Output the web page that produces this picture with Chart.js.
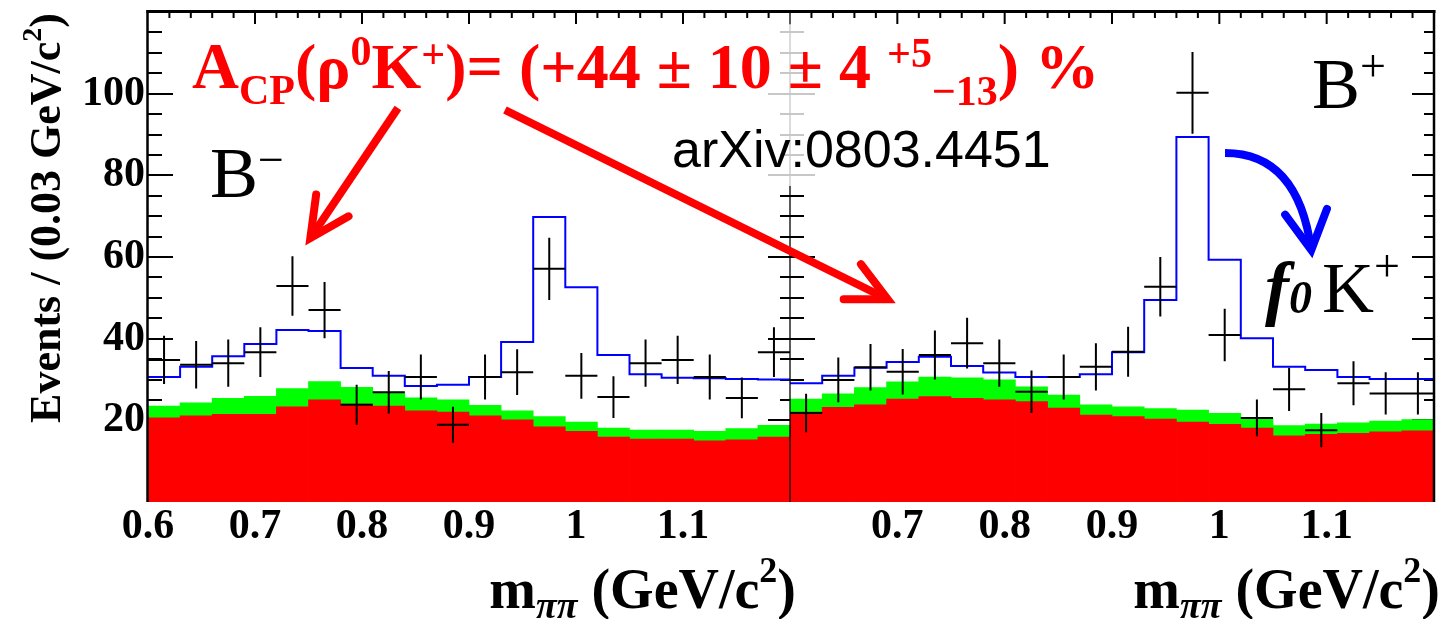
<!DOCTYPE html>
<html>
<head>
<meta charset="utf-8">
<script src="https://cdn.jsdelivr.net/npm/chart.js@4.4.1/dist/chart.umd.min.js"></script>
<style>
  html, body { margin: 0; padding: 0; background: #ffffff; }
  #stage { position: relative; width: 1442px; height: 619px; overflow: hidden; }
  #stage canvas { position: absolute; left: 0; top: 0; }
</style>
</head>
<body>
<div id="stage">
  <canvas id="panelMinus" width="1442" height="619"></canvas>
  <canvas id="panelPlus" width="1442" height="619"></canvas>
</div>
<script>
const SERIF = '"Liberation Serif", "Times New Roman", Times, serif';
const SANS = '"Liberation Sans", Arial, Helvetica, sans-serif';

// m(pi pi) binning: 20 bins of 0.03 GeV/c^2 from 0.60 to 1.20
const binLowEdges = [0.60, 0.63, 0.66, 0.69, 0.72, 0.75, 0.78, 0.81, 0.84, 0.87,
                     0.90, 0.93, 0.96, 0.99, 1.02, 1.05, 1.08, 1.11, 1.14, 1.17];
const binWidth = 0.03;
const massMin = 0.6, massMax = 1.2;
const yMin = 0, yMax = 120;

const yTickValues = [20, 40, 60, 80, 100];
const xTickValuesMinus = [0.6, 0.7, 0.8, 0.9, 1.0, 1.1];
const xTickLabelsMinus = ['0.6', '0.7', '0.8', '0.9', '1', '1.1'];
const xTickValuesPlus = [0.7, 0.8, 0.9, 1.0, 1.1];
const xTickLabelsPlus = ['0.7', '0.8', '0.9', '1', '1.1'];

// B- sample
const minusEvents    = [34.8, 33.6, 34.0, 36.7, 52.9, 47.0, 23.8, 26.9, 30.6, 18.9,
                        30.6, 31.8, 57.1, 30.9, 25.7, 34.0, 34.8, 30.6, 25.5, 36.7];
const minusErrors    = [5.9, 5.8, 5.8, 6.1, 7.3, 6.9, 4.9, 5.2, 5.5, 4.4,
                        5.5, 5.6, 7.6, 5.6, 5.1, 5.8, 5.9, 5.5, 5.0, 6.1];
const minusFitTotal  = [30.6, 33.1, 35.7, 38.7, 42.1, 41.9, 32.8, 30.9, 28.4, 28.7,
                        30.6, 39.2, 69.8, 52.6, 36.0, 31.3, 30.4, 30.3, 30.1, 30.0];
const minusBkgTotal  = [23.5, 24.3, 25.4, 25.9, 27.8, 29.5, 28.1, 26.7, 25.5, 25.0,
                        23.7, 22.3, 20.9, 19.6, 18.1, 17.6, 17.6, 17.3, 18.0, 18.8];
const minusContinuum = [20.6, 21.1, 21.5, 21.5, 23.3, 25.0, 24.0, 23.5, 22.3, 22.0,
                        21.1, 20.1, 18.4, 17.3, 15.9, 15.4, 15.4, 15.0, 15.2, 15.9];

// B+ sample
const plusEvents     = [21.8, 29.9, 33.0, 31.9, 36.0, 38.9, 34.0, 27.0, 30.6, 33.1,
                        36.8, 52.7, 100.2, 40.9, 20.6, 27.6, 17.6, 29.1, 26.6, 26.6];
const plusErrors     = [4.7, 5.5, 5.7, 5.6, 6.0, 6.2, 5.8, 5.2, 5.5, 5.8,
                        6.1, 7.3, 10.0, 6.4, 4.5, 5.3, 4.2, 5.4, 5.2, 5.2];
const plusFitTotal   = [29.1, 30.9, 32.9, 34.3, 35.6, 33.3, 31.7, 30.6, 30.6, 31.3,
                        36.7, 49.5, 89.4, 59.3, 40.1, 33.1, 32.3, 30.6, 30.1, 30.1];
const plusBkgTotal   = [25.2, 26.5, 28.0, 29.4, 30.6, 30.4, 29.9, 28.2, 26.2, 23.8,
                        23.3, 22.9, 22.5, 21.7, 20.5, 18.7, 19.1, 19.4, 19.8, 20.2];
const plusContinuum  = [22.0, 23.2, 23.8, 25.2, 25.8, 25.4, 25.0, 24.6, 23.0, 21.3,
                        20.9, 20.3, 19.6, 19.0, 18.1, 16.2, 16.6, 16.8, 17.2, 17.4];

// annotation anchors, given in (m_pipi, events) coordinates of a panel
const arrowToRho  = { from: ['minus', 0.8336, 96.5], to: ['minus', 0.7486, 63.4] };
const arrowToPlus = { from: ['minus', 0.9336, 96.0], to: ['plus', 0.6960, 49.0] };
const arrowToF0   = { from: ['plus', 1.0053, 85.5], ctrl: ['plus', 1.0733, 85.5], to: ['plus', 1.0863, 60.5] };
const labelAcp    = ['minus', 0.6411, 101.4];
const labelArxiv  = ['minus', 1.0897, 82.0];
const labelBminus = ['minus', 0.6579, 74.7];
const labelBplus  = ['plus', 1.0863, 96.5];
const labelF0K    = ['plus', 1.0426, 46.5];
const veilFrom    = ['minus', 0.628, 117.0];
const veilTo      = ['plus', 0.955, 77.4];

const charts = {};

function stepVertices(values) {
  const pts = [];
  values.forEach((v, i) => {
    pts.push({ x: binLowEdges[i], y: v });
    pts.push({ x: binLowEdges[i] + binWidth, y: v });
  });
  return pts;
}
function binPoints(values) {
  return values.map((v, i) => ({ x: binLowEdges[i] + binWidth / 2, y: v }));
}
function toPixel(anchor) {
  const c = charts[anchor[0]];
  return [c.scales.x.getPixelForValue(anchor[1]), c.scales.y.getPixelForValue(anchor[2])];
}

function drawRich(ctx, parts, x, y, align, color) {
  ctx.save();
  ctx.fillStyle = color;
  ctx.textBaseline = 'alphabetic';
  ctx.textAlign = 'left';
  let total = 0;
  const widths = parts.map(p => {
    ctx.font = p.font;
    const w = ctx.measureText(p.t).width + (p.dx || 0);
    total += w;
    return w;
  });
  let cx = align === 'right' ? x - total : x;
  parts.forEach((p, i) => {
    ctx.font = p.font;
    ctx.fillText(p.t, cx + (p.dx || 0), y + (p.dy || 0));
    cx += widths[i];
  });
  ctx.restore();
}

// ROOT-style ticks pointing into the frame
function drawInnerTicks(chart) {
  const { ctx, chartArea: a, scales: { x, y } } = chart;
  ctx.save();
  ctx.strokeStyle = '#000';
  ctx.lineWidth = 2;
  ctx.beginPath();
  for (let v = 5; v < yMax; v += 5) {
    const py = Math.round(y.getPixelForValue(v));
    const major = v % 20 === 0;
    ctx.moveTo(a.left, py); ctx.lineTo(a.left + (major ? 25 : 14), py);
    ctx.moveTo(a.right, py); ctx.lineTo(a.right - (major ? 22 : 10), py);
  }
  for (let k = 1; k < 30; k++) {
    const px = x.getPixelForValue(massMin + k * 0.02);
    const major = k % 5 === 0;
    ctx.moveTo(px, a.top); ctx.lineTo(px, a.top + (major ? 12 : 6));
  }
  ctx.stroke();
  ctx.restore();
}

function drawDataCrosses(chart, values, errors) {
  const { ctx, scales: { x, y } } = chart;
  ctx.save();
  ctx.strokeStyle = '#000';
  ctx.lineWidth = 2;
  ctx.beginPath();
  values.forEach((v, i) => {
    const x0 = x.getPixelForValue(binLowEdges[i]);
    const x1 = x.getPixelForValue(binLowEdges[i] + binWidth);
    const xc = x.getPixelForValue(binLowEdges[i] + binWidth / 2);
    const yc = y.getPixelForValue(v);
    ctx.moveTo(x0, yc); ctx.lineTo(x1, yc);
    ctx.moveTo(xc, y.getPixelForValue(v + errors[i]));
    ctx.lineTo(xc, y.getPixelForValue(v - errors[i]));
  });
  ctx.stroke();
  ctx.restore();
}

function drawFrame(chart, side) {
  const { ctx, chartArea: a } = chart;
  ctx.save();
  ctx.strokeStyle = '#000';
  ctx.lineWidth = 3;
  ctx.beginPath();
  if (side === 'minus') {
    ctx.moveTo(a.left - 1.5, a.top - 0.5); ctx.lineTo(a.right, a.top - 0.5);
  } else {
    ctx.moveTo(a.left, a.top - 0.5); ctx.lineTo(a.right + 1.5, a.top - 0.5);
  }
  ctx.stroke();
  ctx.lineWidth = 2.5;
  ctx.beginPath();
  if (side === 'minus') {
    ctx.moveTo(a.left - 0.5, a.top - 2); ctx.lineTo(a.left - 0.5, a.bottom);
  } else {
    ctx.moveTo(a.right, a.top - 2); ctx.lineTo(a.right, a.bottom);
  }
  ctx.stroke();
  if (side === 'plus') {
    // shared boundary between the two samples
    ctx.lineWidth = 1.3;
    ctx.beginPath();
    ctx.moveTo(a.left, a.top); ctx.lineTo(a.left, a.bottom);
    ctx.stroke();
  }
  ctx.restore();
}

function drawAxisTitles(chart, side) {
  const { ctx, chartArea: a } = chart;
  const big = `bold 56px ${SERIF}`;
  drawRich(ctx, [
    { t: 'm', font: big },
    { t: 'ππ', font: `italic bold 38px ${SERIF}`, dy: 10 },
    { t: ' (GeV/c', font: big },
    { t: '2', font: `bold 36px ${SERIF}`, dy: -26 },
    { t: ')', font: big }
  ], a.right + 6, 608, 'right', '#000');
  if (side === 'minus') {
    ctx.save();
    ctx.translate(60, 13);
    ctx.rotate(-Math.PI / 2);
    drawRich(ctx, [
      { t: 'Events / (0.03 GeV/c', font: `bold 44px ${SERIF}` },
      { t: '2', font: `bold 28px ${SERIF}`, dy: -19 },
      { t: ')', font: `bold 44px ${SERIF}` }
    ], 0, 0, 'right', '#000');
    ctx.restore();
  }
}

function arrowHead(ctx, tip, angle, len, spread) {
  const a1 = angle + Math.PI - spread, a2 = angle + Math.PI + spread;
  ctx.beginPath();
  ctx.moveTo(tip[0] + len * Math.cos(a1), tip[1] + len * Math.sin(a1));
  ctx.lineTo(tip[0], tip[1]);
  ctx.lineTo(tip[0] + len * Math.cos(a2), tip[1] + len * Math.sin(a2));
  ctx.stroke();
}

function straightArrow(ctx, arrow, color) {
  const p0 = toPixel(arrow.from), p1 = toPixel(arrow.to);
  const ang = Math.atan2(p1[1] - p0[1], p1[0] - p0[0]);
  const tip = [p1[0] - 6 * Math.cos(ang), p1[1] - 6 * Math.sin(ang)];
  ctx.save();
  ctx.strokeStyle = color;
  ctx.lineWidth = 8;
  ctx.lineCap = 'butt';
  ctx.lineJoin = 'miter';
  ctx.beginPath();
  ctx.moveTo(p0[0], p0[1]);
  ctx.lineTo(tip[0], tip[1]);
  ctx.stroke();
  ctx.lineCap = 'round';
  arrowHead(ctx, tip, ang, 44, 0.46);
  ctx.restore();
}

function curvedArrow(ctx, arrow, color) {
  const p0 = toPixel(arrow.from), pc = toPixel(arrow.ctrl), p1 = toPixel(arrow.to);
  const ang = Math.atan2(p1[1] - pc[1], p1[0] - pc[0]);
  const tip = [p1[0] - 5 * Math.cos(ang), p1[1] - 5 * Math.sin(ang)];
  ctx.save();
  ctx.strokeStyle = color;
  ctx.lineWidth = 8;
  ctx.lineCap = 'butt';
  ctx.beginPath();
  ctx.moveTo(p0[0], p0[1]);
  ctx.quadraticCurveTo(pc[0], pc[1], tip[0], tip[1]);
  ctx.stroke();
  ctx.lineCap = 'round';
  ctx.lineJoin = 'miter';
  arrowHead(ctx, tip, ang, 44, 0.5);
  ctx.restore();
}

function drawAnnotations(ctx) {
  // translucent label box over the upper middle of the frame
  const v0 = toPixel(veilFrom), v1 = toPixel(veilTo);
  ctx.save();
  ctx.fillStyle = 'rgba(255,255,255,0.78)';
  ctx.fillRect(v0[0], v0[1], v1[0] - v0[0], v1[1] - v0[1]);
  ctx.restore();

  const red = '#ff0000';
  straightArrow(ctx, arrowToRho, red);
  straightArrow(ctx, arrowToPlus, red);
  curvedArrow(ctx, arrowToF0, '#0000ff');

  const rb = s => `bold ${s}px ${SERIF}`;
  const pA = toPixel(labelAcp);
  drawRich(ctx, [
    { t: 'A', font: rb(65) },
    { t: 'CP', font: rb(42), dy: 16 },
    { t: '(ρ', font: rb(64) },
    { t: '0', font: rb(42), dy: -23 },
    { t: 'K', font: rb(64) },
    { t: '+', font: rb(42), dy: -20 },
    { t: ')= (+44 ± 10 ± 4 ', font: rb(64) },
    { t: '+5', font: rb(42), dy: -21 },
    { t: '−13', font: rb(42), dy: 17 },
    { t: ') %', font: rb(64) }
  ], pA[0], pA[1], 'left', red);

  const pX = toPixel(labelArxiv);
  drawRich(ctx, [{ t: 'arXiv:0803.4451', font: `52px ${SANS}` }], pX[0], pX[1], 'left', '#000');

  const pm = toPixel(labelBminus);
  drawRich(ctx, [
    { t: 'B', font: `72px ${SERIF}` },
    { t: '−', font: `46px ${SERIF}`, dy: -22 }
  ], pm[0], pm[1], 'left', '#000');

  const pp = toPixel(labelBplus);
  drawRich(ctx, [
    { t: 'B', font: `72px ${SERIF}` },
    { t: '+', font: `46px ${SERIF}`, dy: -27 }
  ], pp[0], pp[1], 'left', '#000');

  const pf = toPixel(labelF0K);
  drawRich(ctx, [
    { t: 'f', font: `italic bold 72px ${SERIF}` },
    { t: '0', font: `italic bold 46px ${SERIF}`, dy: 1 },
    { t: 'K', font: `72px ${SERIF}`, dx: 10 },
    { t: '+', font: `46px ${SERIF}`, dy: -31 }
  ], pf[0], pf[1], 'left', '#000');
}

function panelPlugin(side, events, errors) {
  return {
    id: 'rootPanel',
    afterLayout(chart) { charts[side] = chart; },
    beforeDatasetsDraw(chart) { drawInnerTicks(chart); },
    afterDatasetsDraw(chart) {
      drawDataCrosses(chart, events, errors);
      drawFrame(chart, side);
      drawAxisTitles(chart, side);
      if (side === 'plus' && charts.minus) drawAnnotations(chart.ctx);
    }
  };
}

function zeroPadding(s) {
  s.paddingTop = 0; s.paddingBottom = 0; s.paddingLeft = 0; s.paddingRight = 0;
}

function makePanel(side, canvasId, d) {
  const barBase = { type: 'bar', grouped: false, barPercentage: 1, categoryPercentage: 1, borderWidth: 0 };
  return new Chart(document.getElementById(canvasId), {
    type: 'bar',
    data: {
      datasets: [
        { type: 'line', label: 'Total fit', data: stepVertices(d.fit), borderColor: '#0000ff',
          borderWidth: 2, pointRadius: 0, fill: false, tension: 0, borderJoinStyle: 'miter' },
        Object.assign({ label: 'Continuum', data: binPoints(d.continuum), backgroundColor: '#ff0000' }, barBase),
        Object.assign({ label: 'Total background', data: binPoints(d.bkg), backgroundColor: '#00ff00' }, barBase)
      ]
    },
    options: {
      responsive: false,
      animation: false,
      devicePixelRatio: 1,
      layout: { padding: d.padding },
      plugins: { legend: { display: false }, tooltip: { enabled: false } },
      scales: {
        x: {
          type: 'linear', min: massMin, max: massMax, offset: false,
          grid: { display: false, drawTicks: false },
          border: { display: false },
          afterBuildTicks: s => { s.ticks = d.xTicks.map(v => ({ value: v })); },
          afterFit: s => { s.height = 117; zeroPadding(s); },
          ticks: {
            autoSkip: false, maxRotation: 0, padding: 0, color: '#000',
            font: { family: SERIF, size: 42, weight: 'bold' },
            callback: v => { const i = d.xTicks.findIndex(t => Math.abs(t - v) < 1e-6); return i >= 0 ? d.xLabels[i] : ''; }
          }
        },
        y: {
          type: 'linear', min: yMin, max: yMax, display: side === 'minus',
          grid: { display: false, drawTicks: false },
          border: { display: false },
          afterBuildTicks: s => { s.ticks = yTickValues.map(v => ({ value: v })); },
          afterFit: s => { s.width = side === 'minus' ? 148 : 0; zeroPadding(s); },
          ticks: { padding: 3, color: '#000', font: { family: SERIF, size: 42, weight: 'bold' } }
        }
      }
    },
    plugins: [panelPlugin(side, d.events, d.errors)]
  });
}

makePanel('minus', 'panelMinus', {
  fit: minusFitTotal, continuum: minusContinuum, bkg: minusBkgTotal,
  events: minusEvents, errors: minusErrors,
  xTicks: xTickValuesMinus, xLabels: xTickLabelsMinus,
  padding: { left: 0, right: 652, top: 12, bottom: 0 }
});
makePanel('plus', 'panelPlus', {
  fit: plusFitTotal, continuum: plusContinuum, bkg: plusBkgTotal,
  events: plusEvents, errors: plusErrors,
  xTicks: xTickValuesPlus, xLabels: xTickLabelsPlus,
  padding: { left: 790, right: 8, top: 12, bottom: 0 }
});
</script>
</body>
</html>
